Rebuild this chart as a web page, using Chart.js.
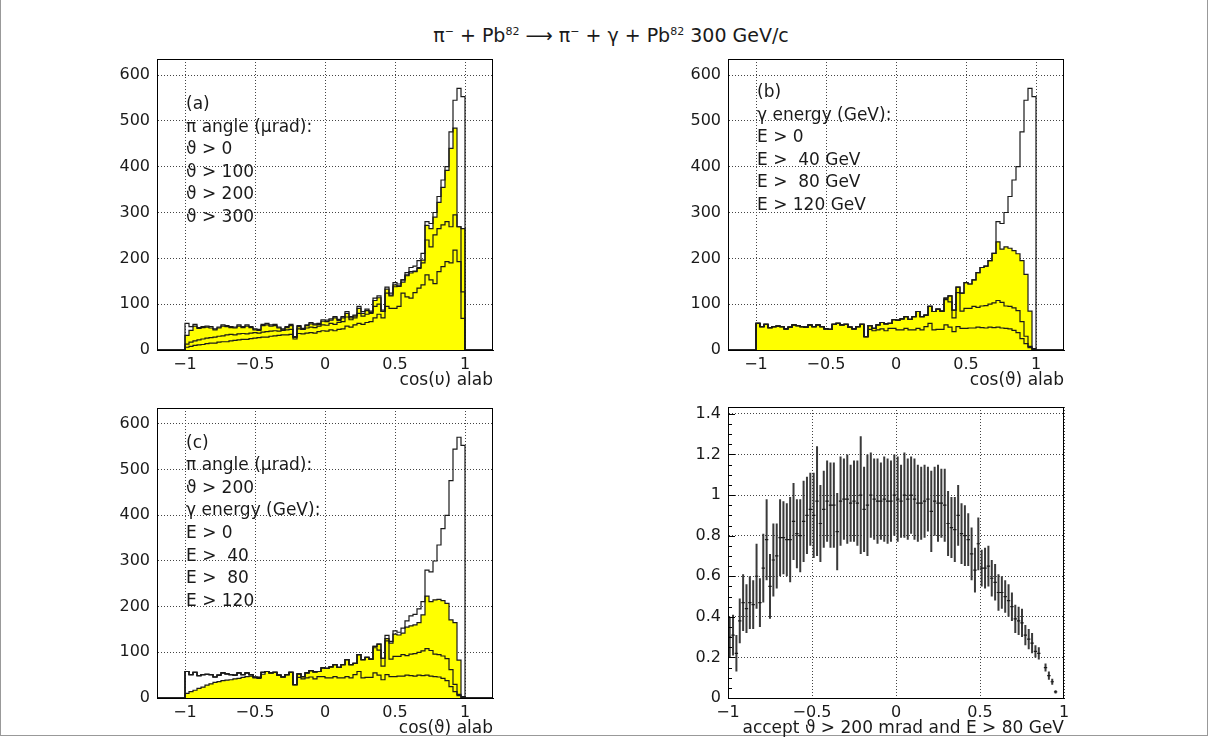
<!DOCTYPE html>
<html>
<head>
<meta charset="utf-8">
<script src="https://cdn.jsdelivr.net/npm/chart.js@4.4.1/dist/chart.umd.min.js"></script>
<style>
  body { margin: 0; width: 1210px; height: 756px; position: relative; overflow: hidden; background: #fff; font-family: 'DejaVu Sans', sans-serif; }
  canvas { position: absolute; }
  #page { position: absolute; left: 0; top: -1px; width: 1206px; height: 735px; border: 1px solid #999; }
  #title { position: absolute; left: 6px; top: 24px; width: 1210px; text-align: center; font-size: 19px; color: #1a1a1a; }
  #title sup { font-size: 11px; }
</style>
</head>
<body>
<div id="page"></div>
<div id="title">π<sup>−</sup> + Pb<sup>82</sup> ⟶ π<sup>−</sup> + γ + Pb<sup>82</sup> 300 GeV/c</div>
<canvas id="panelA" width="400" height="345" style="left:100px;top:50px"></canvas>
<canvas id="panelB" width="400" height="345" style="left:671px;top:50px"></canvas>
<canvas id="panelC" width="400" height="344" style="left:100px;top:399px"></canvas>
<canvas id="panelD" width="400" height="345" style="left:671px;top:398px"></canvas>
<script>
// histograms: 70 bins over cos(theta) in [-1, 1]
const histBins = 70;
const xTicks = [-1, -0.5, 0, 0.5, 1];
const xTickLabels = ['−1', '−0.5', '0', '0.5', '1'];
const yTicksHist = [0, 100, 200, 300, 400, 500, 600];
const yTicksAcc = [0, 0.2, 0.4, 0.6, 0.8, 1, 1.2, 1.4];
const yTickLabelsAcc = ['0', '0.2', '0.4', '0.6', '0.8', '1', '1.2', '1.4'];

// all events (theta > 0, E > 0)
const allEvents = [
  58,51,56,49,51,52,51,46,50,55,
  53,51,50,55,51,55,51,46,45,56,
  58,55,56,50,46,51,56,29,53,47,
  55,60,57,58,66,65,68,73,67,73,
  84,73,76,95,84,89,85,113,118,87,
  137,124,147,144,153,169,180,183,195,211,
  280,276,300,335,371,400,476,545,571,553];
// pion angle cuts
const piAbove100 = [
  32,43,52,47,49,50,48,44,48,52,
  51,49,48,52,49,52,49,44,43,53,
  55,52,53,48,44,49,53,28,51,45,
  53,57,55,56,63,62,65,70,64,70,
  80,70,74,91,80,86,82,108,114,84,
  133,120,142,139,148,162,168,172,180,196,
  272,265,290,322,355,392,440,484,269,265];
const piAbove200 = [
  13,17,20,22,24,26,27,28,30,31,
  33,34,33,35,36,35,37,38,37,39,
  40,41,42,41,43,44,45,28,46,45,
  48,50,49,52,55,54,58,56,60,62,
  72,66,70,80,74,78,80,95,100,84,
  124,118,138,140,153,164,171,171,178,190,
  240,225,251,265,273,280,269,295,269,127];
const piAbove300 = [
  6,8,10,11,12,14,15,15,17,18,
  18,20,21,22,23,23,25,26,27,28,
  28,30,31,32,33,33,34,24,36,35,
  37,38,37,40,42,41,44,42,45,46,
  52,50,55,58,56,60,62,70,78,70,
  95,91,91,95,124,116,113,125,135,142,
  164,153,145,171,182,193,190,218,193,69];
// photon energy cuts
const gammaAbove40 = [
  58,51,56,49,51,52,51,46,50,55,
  53,51,50,55,51,55,51,46,45,56,
  58,55,56,50,46,51,56,29,53,47,
  55,60,57,58,66,65,68,73,67,73,
  84,73,76,95,84,89,85,113,118,87,
  137,124,147,144,153,169,180,183,195,211,
  236,220,225,222,217,210,195,165,85,3];
const gammaAbove80 = [
  58,51,56,49,51,52,51,46,50,55,
  53,51,50,55,51,55,51,46,45,56,
  58,55,56,50,46,51,56,29,53,47,
  55,60,57,58,66,65,68,73,67,73,
  84,73,76,95,84,89,85,110,105,70,
  125,85,91,91,95,93,96,97,100,103,
  108,104,96,95,92,86,62,30,8,1];
const gammaAbove120 = [
  58,51,56,49,51,52,51,46,50,55,
  53,51,50,55,51,55,51,46,45,56,
  58,55,56,50,46,51,56,29,45,42,
  44,46,42,47,47,44,44,47,44,44,
  47,44,51,58,44,45,45,55,50,40,
  51,47,47,48,48,50,49,48,50,49,
  50,48,47,46,43,38,25,14,5,0];
// panel (c) filled histogram
const pi200Gamma40 = [
  10,14,17,21,24,28,31,34,36,38,
  39,40,42,43,45,47,48,44,43,52,
  58,55,56,50,46,51,56,29,53,47,
  55,60,57,58,66,65,68,73,67,73,
  84,73,76,95,84,89,85,113,118,87,
  130,120,140,138,142,155,158,160,165,182,
  223,211,215,216,213,207,171,165,83,3];

// acceptance, 100 bins over [-1, 1]
const accBins = 100;
const acceptance = [
  0.30,0.31,0.22,0.38,0.47,0.44,0.47,0.46,0.60,0.47,
  0.64,0.78,0.55,0.68,0.70,0.79,0.79,0.78,0.78,0.87,
  0.81,0.80,0.87,0.90,0.93,0.90,0.97,0.86,0.93,0.97,
  0.95,0.95,0.82,0.97,0.98,0.98,0.96,0.97,0.96,1.00,
  0.93,0.95,1.00,0.98,0.97,0.97,0.98,0.97,0.97,1.00,
  0.98,0.97,1.00,0.98,1.00,0.98,0.96,0.96,0.97,0.98,
  0.92,0.97,0.96,0.96,0.95,0.86,0.84,0.83,0.90,0.81,
  0.80,0.78,0.71,0.63,0.76,0.64,0.64,0.65,0.59,0.57,
  0.52,0.52,0.50,0.48,0.45,0.39,0.38,0.37,0.31,0.29,
  0.27,0.23,0.22,null,0.15,0.11,0.08,0.03,null,null];
const acceptanceErr = [
  0.10,0.10,0.09,0.11,0.14,0.12,0.13,0.12,0.16,0.12,
  0.17,0.20,0.16,0.18,0.16,0.19,0.18,0.18,0.21,0.19,
  0.17,0.18,0.20,0.19,0.18,0.21,0.27,0.19,0.19,0.20,
  0.21,0.21,0.19,0.22,0.20,0.22,0.19,0.20,0.21,0.29,
  0.21,0.25,0.21,0.20,0.21,0.19,0.21,0.21,0.20,0.20,
  0.21,0.18,0.21,0.20,0.19,0.20,0.19,0.18,0.18,0.16,
  0.20,0.17,0.19,0.17,0.18,0.16,0.15,0.16,0.15,0.15,
  0.15,0.13,0.13,0.11,0.13,0.09,0.10,0.10,0.09,0.09,
  0.09,0.08,0.08,0.08,0.07,0.07,0.07,0.07,0.05,0.05,
  0.05,0.03,0.03,null,0.02,0.02,0.015,0.008,null,null];

const textA = ['(a)', 'π angle (μrad):', 'ϑ > 0', 'ϑ > 100', 'ϑ > 200', 'ϑ > 300'];
const textB = ['(b)', 'γ energy (GeV):', 'E > 0', 'E >  40 GeV', 'E >  80 GeV', 'E > 120 GeV'];
const textC = ['(c)', 'π angle (μrad):', 'ϑ > 200', 'γ energy (GeV):', 'E > 0', 'E >  40', 'E >  80', 'E > 120'];

const ink = '#1a1a1a';
const yellow = '#ffff00';
const tickFont = { family: 'DejaVu Sans', size: 16 };
const titleFont = { family: 'DejaVu Sans', size: 17 };

// step outline: start on the zero line left of -1, end on it right of 1
function histPoints(values) {
  const w = 2 / histBins;
  const pts = [{ x: -1.2, y: 0 }];
  values.forEach((v, i) => pts.push({ x: -1 + i * w, y: v }));
  pts.push({ x: 1, y: 0 }, { x: 1.2, y: 0 });
  return pts;
}

function histSet(values, fill) {
  return {
    data: histPoints(values),
    stepped: true,
    borderColor: ink,
    borderWidth: 1.2,
    pointRadius: 0,
    fill: fill ? 'origin' : false,
    backgroundColor: fill ? yellow : 'transparent'
  };
}

const panelDecor = {
  id: 'panelDecor',
  afterDatasetsDraw(chart, args, opts) {
    const { ctx, chartArea: a, scales: { x, y } } = chart;
    ctx.save();
    ctx.strokeStyle = '#000';
    ctx.lineWidth = 1;
    ctx.strokeRect(a.left + 0.5, a.top + 0.5, a.right - a.left - 1, a.bottom - a.top);
    if (opts.minorStep) {
      for (let v = 0; v <= y.max + 1e-9; v += opts.minorStep) {
        const py = Math.round(y.getPixelForValue(v)) + 0.5;
        const major = Math.abs(v / 0.2 - Math.round(v / 0.2)) < 1e-6;
        ctx.beginPath();
        ctx.moveTo(a.left, py);
        ctx.lineTo(a.left + (major ? 7 : 4), py);
        ctx.stroke();
      }
    }
    if (opts.lines) {
      ctx.font = '17px "DejaVu Sans"';
      ctx.fillStyle = ink;
      ctx.textBaseline = 'middle';
      opts.lines.forEach((t, i) => {
        ctx.fillText(t, x.getPixelForValue(opts.textX) + 1, y.getPixelForValue(opts.textTop - i * opts.textStep));
      });
    }
    ctx.restore();
  }
};

function scales(xMin, xMax, yMax, yTicks, yLabels, xTitle) {
  return {
    x: {
      type: 'linear', min: xMin, max: xMax,
      afterBuildTicks: s => { s.ticks = xTicks.map(v => ({ value: v })); },
      afterFit: s => { s.height = 45; s.paddingLeft = 0; s.paddingRight = 0; },
      ticks: { color: ink, font: tickFont, padding: 5, maxRotation: 0, autoSkip: false,
               callback: (v, i) => xTickLabels[i] },
      grid: { color: '#444', lineWidth: 1, drawTicks: false },
      border: { display: true, color: '#000', dash: [1, 2] },
      title: { display: true, text: xTitle, align: 'end', color: ink, font: titleFont,
               padding: { top: 0, bottom: 4 } }
    },
    y: {
      type: 'linear', min: 0, max: yMax,
      afterBuildTicks: s => { s.ticks = yTicks.map(v => ({ value: v })); },
      afterFit: s => { s.width = 57; s.paddingTop = 0; s.paddingBottom = 0; },
      ticks: { color: ink, font: tickFont, padding: 7, autoSkip: false,
               callback: (v, i) => yLabels[i] },
      grid: { color: '#444', lineWidth: 1, drawTicks: false },
      border: { display: true, color: '#000', dash: [1, 2] }
    }
  };
}

function baseOptions(sc, decor) {
  return {
    responsive: false, animation: false, events: [],
    layout: { padding: { top: 9, right: 7, left: 0, bottom: 0 } },
    scales: sc,
    plugins: { legend: { display: false }, tooltip: { enabled: false }, panelDecor: decor }
  };
}

const yLabelsHist = yTicksHist.map(String);

// (a) pion angle cuts
new Chart(document.getElementById('panelA'), {
  type: 'line',
  data: { datasets: [histSet(allEvents), histSet(piAbove200), histSet(piAbove300), histSet(piAbove100, true)] },
  options: baseOptions(scales(-1.2, 1.2, 635, yTicksHist, yLabelsHist, 'cos(υ) alab'),
    { lines: textA, textX: -1, textTop: 535, textStep: 49 }),
  plugins: [panelDecor]
});

// (b) photon energy cuts
new Chart(document.getElementById('panelB'), {
  type: 'line',
  data: { datasets: [histSet(allEvents), histSet(gammaAbove80), histSet(gammaAbove120), histSet(gammaAbove40, true)] },
  options: baseOptions(scales(-1.2, 1.2, 635, yTicksHist, yLabelsHist, 'cos(ϑ) alab'),
    { lines: textB, textX: -1, textTop: 561, textStep: 49 }),
  plugins: [panelDecor]
});

// (c) pion angle > 200 with photon energy cuts
new Chart(document.getElementById('panelC'), {
  type: 'line',
  data: { datasets: [histSet(allEvents), histSet(gammaAbove80), histSet(gammaAbove120), histSet(pi200Gamma40, true)] },
  options: baseOptions(scales(-1.2, 1.2, 635, yTicksHist, yLabelsHist, 'cos(ϑ) alab'),
    { lines: textC, textX: -1, textTop: 558, textStep: 49.5 }),
  plugins: [panelDecor]
});

// (d) acceptance with error bars
const accWidth = 2 / accBins;
const errSegs = [], binMarks = [];
acceptance.forEach((v, i) => {
  if (v === null) return;
  const c = -1 + accWidth * (i + 0.5);
  const e = acceptanceErr[i];
  errSegs.push({ x: c, y: v - e }, { x: c, y: v + e }, { x: c, y: null });
  binMarks.push({ x: c - accWidth / 2, y: v }, { x: c + accWidth / 2, y: v }, { x: c + accWidth / 2, y: null });
});

new Chart(document.getElementById('panelD'), {
  type: 'line',
  data: { datasets: [
    { data: binMarks, borderColor: ink, borderWidth: 1.2, pointRadius: 0, fill: false, spanGaps: false },
    { data: errSegs, borderColor: '#3a3a3a', borderWidth: 2, pointRadius: 0, fill: false, spanGaps: false }
  ] },
  options: baseOptions(scales(-1, 1, 1.434, yTicksAcc, yTickLabelsAcc, 'accept ϑ > 200 mrad and E > 80 GeV'),
    { minorStep: 0.05 }),
  plugins: [panelDecor]
});
</script>
</body>
</html>
